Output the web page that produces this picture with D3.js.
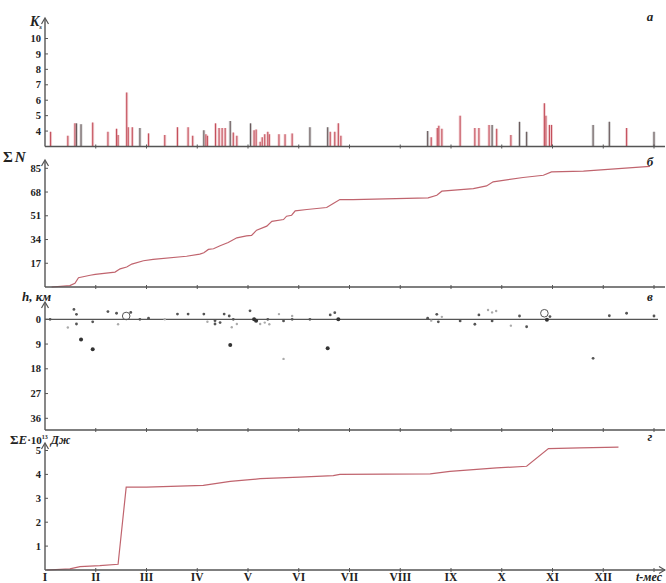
<!DOCTYPE html>
<html>
<head>
<meta charset="utf-8">
<script src="https://cdn.jsdelivr.net/npm/d3@7"></script>
<style>
  body { margin: 0; background: #fff; }
  svg text { font-family: "Liberation Serif", "DejaVu Serif", serif; font-weight: bold; fill: #222; }
</style>
</head>
<body>
<div id="chart"></div>
<script>
// --- Data (time in months from 1 Jan, 0..12) ---
const monthLabels = ['I', 'II', 'III', 'IV', 'V', 'VI', 'VII', 'VIII', 'IX', 'X', 'XI', 'XII'];

// panel a: magnitude class Ks of each event, 'r' red / 'k' dark
const ksTime = [0.11, 0.45, 0.59, 0.62, 0.71, 0.94, 1.24, 1.41, 1.44, 1.61, 1.64, 1.72, 1.87, 2.04, 2.36, 2.61, 2.82, 2.91,
    3.13, 3.17, 3.20, 3.36, 3.43, 3.49, 3.55, 3.65, 3.71, 3.78, 4.05, 4.12, 4.16, 4.24, 4.28, 4.33, 4.39, 4.42, 4.61, 4.73, 4.87,
    5.22, 5.57, 5.62, 5.71, 5.78, 5.83, 7.54, 7.61, 7.73, 7.76, 7.82, 8.18, 8.47, 8.55, 8.75, 8.81, 8.90, 9.18, 9.35, 9.49,
    9.84, 9.87, 9.94, 9.98, 10.80, 11.12, 11.46, 12.0];
const ksValue = [3.95, 3.7, 4.5, 4.5, 4.45, 4.55, 3.95, 4.15, 3.75, 6.5, 4.25, 4.25, 4.2, 3.85, 3.75, 4.25, 4.25, 3.7,
    4.05, 3.8, 3.7, 4.5, 4.2, 4.2, 4.2, 4.65, 3.9, 3.7, 4.5, 4.05, 4.1, 3.3, 3.6, 3.8, 3.95, 3.8, 3.8, 3.8, 3.85,
    4.25, 4.25, 3.95, 3.95, 4.5, 3.7, 4.0, 3.6, 4.2, 4.35, 4.15, 5.0, 4.2, 4.2, 4.4, 4.4, 4.15, 3.75, 4.6, 3.95,
    5.8, 5.0, 4.4, 4.4, 4.4, 4.6, 4.2, 3.95];
const ksKind = ['r', 'r', 'r', 'k', 'k', 'r', 'r', 'r', 'r', 'r', 'r', 'r', 'k', 'r', 'r', 'r', 'r', 'r',
    'k', 'r', 'r', 'r', 'r', 'r', 'r', 'k', 'r', 'r', 'k', 'r', 'r', 'r', 'r', 'r', 'r', 'r', 'r', 'r', 'r',
    'k', 'k', 'r', 'r', 'r', 'r', 'k', 'r', 'r', 'r', 'r', 'r', 'r', 'r', 'r', 'k', 'r', 'r', 'k', 'k',
    'r', 'r', 'r', 'r', 'k', 'k', 'r', 'k'];

// panel б: cumulative number of events
const nTime = [0.13, 0.49, 0.59, 0.66, 0.89, 0.99, 1.38, 1.48, 1.61, 1.71, 1.94, 2.13, 2.79, 3.05, 3.13, 3.22, 3.32, 3.45,
    3.61, 3.78, 3.97, 4.07, 4.17, 4.37, 4.47, 4.70, 4.76, 4.86, 4.93, 5.16, 5.55, 5.68, 5.81, 6.07, 7.55, 7.72, 7.82,
    8.44, 8.70, 8.83, 9.42, 9.82, 9.98, 10.61, 11.92];
const nValue = [0, 1, 2.6, 6.6, 8.4, 9, 10.7, 13, 14.3, 16.4, 18.8, 19.8, 22, 23.6, 24.5, 26.9, 27.4, 29.5,
    31.9, 35.2, 36.6, 37, 40.7, 43.6, 47, 48.3, 50.7, 51.4, 54.5, 55.5, 56.9, 59.8, 62.6, 62.6, 63.8, 65.7, 68.6,
    70.5, 72.4, 75.3, 78.4, 80, 82.4, 83, 86.4];

// panel в: focal depth h, km ('s' point, 'd' large, 'f' faint, 'o' open circle)
const hTime = [0.10, 0.45, 0.57, 0.62, 0.62, 0.71, 0.94, 0.94, 1.24, 1.41, 1.44, 1.60, 1.69, 1.87, 2.04, 2.36, 2.61, 2.82,
    3.13, 3.20, 3.35, 3.35, 3.45, 3.53, 3.63, 3.65, 3.68, 3.71, 3.78, 4.04, 4.12, 4.16, 4.24, 4.33, 4.39, 4.42, 4.61,
    4.70, 4.70, 4.87, 4.87, 5.22, 5.57, 5.62, 5.71, 5.78, 7.54, 7.61, 7.72, 7.75, 7.82, 8.18, 8.47, 8.55, 8.73, 8.81,
    8.89, 8.81, 9.18, 9.35, 9.49, 9.84, 9.89, 9.95, 10.80, 11.12, 11.46, 12.0];
const hValue = [0, 3, -3.6, -1.8, 1.7, 7.3, 0.9, 10.9, -2.8, -2.2, 1.8, -1.2, -2.5, 0, -0.4, 0, -1.9, -1.9,
    -1.9, 0.9, 0.5, 1.7, 1.2, -1.9, -1.2, 9.3, 2.9, 0, 1.7, -3.1, 0, 0.5, 1.7, 1.2, 0, 1.8, -1.9,
    0.6, 14.4, -1.2, 0, 0, 10.5, -1.6, -2.4, 0, -0.4, 0.5, -1.8, 0.9, -0.9, 0.6, 1.8, -1.6, -3.4, -2.5,
    -3, 0.6, 2.3, -1.2, 2.7, -2.2, 0.2, -1, 14.2, -1.3, -2.2, -1.2];
const hKind = ['s', 'f', 's', 's', 's', 'd', 's', 'd', 's', 's', 'f', 'o', 's', 's', 's', 'f', 's', 's',
    's', 'f', 's', 's', 's', 's', 's', 'd', 'f', 's', 'f', 's', 'd', 'd', 'f', 'f', 's', 'f', 'f',
    's', 'f', 'f', 's', 's', 'd', 's', 's', 'd', 's', 'f', 's', 's', 'f', 's', 's', 's', 'f', 'f',
    'f', 's', 'f', 's', 's', 'o', 'd', 's', 's', 's', 's', 's'];

// panel г: cumulative energy
const eTime = [0.03, 0.49, 0.69, 1.08, 1.44, 1.60, 2.00, 3.12, 3.65, 4.04, 4.24, 5.02, 5.68, 5.81, 7.59, 7.98, 8.90,
    9.49, 9.92, 10.54, 11.30];
const eValue = [0, 0.05, 0.14, 0.18, 0.24, 3.47, 3.47, 3.54, 3.71, 3.78, 3.82, 3.89, 3.95, 4.0, 4.02, 4.13, 4.27,
    4.34, 5.08, 5.11, 5.14];

const ksTicks = [4, 5, 6, 7, 8, 9, 10];
const nTicks = [17, 34, 51, 68, 85];
const hTicks = [0, 9, 18, 27, 36];
const eTicks = [1, 2, 3, 4, 5];

// --- Layout ---
const W = 666, H = 583;
const axisColor = '#555';
const lineColor = '#c0646e';

const svg = d3.select('#chart').append('svg').attr('width', W).attr('height', H);

const x = d3.scaleLinear().domain([0, 12]).range([45, 654]);

const yK = d3.scaleLinear().domain([3, 10]).range([146.5, 38.5]);
const yN = d3.scaleLinear().domain([0, 85]).range([287, 168.3]);
const yH = d3.scaleLinear().domain([0, 36]).range([319.3, 418.3]);
const yE = d3.scaleLinear().domain([0, 5]).range([570, 450.5]);

// helper: y axis with ticks on the left, arrow on top
function yAxis(scale, ticks, yBottom, yTop) {
    const g = svg.append('g');
    g.append('line')
        .attr('x1', 45).attr('x2', 45)
        .attr('y1', yBottom).attr('y2', yTop)
        .attr('stroke', axisColor).attr('stroke-width', 1.4);
    g.append('path')
        .attr('d', `M41.5,${yTop + 5} L45,${yTop - 1} L48.5,${yTop + 5}`)
        .attr('fill', 'none').attr('stroke', axisColor).attr('stroke-width', 1.2);
    const t = g.selectAll('g.tick').data(ticks).enter().append('g').attr('class', 'tick');
    t.append('line')
        .attr('x1', 45).attr('x2', 48)
        .attr('y1', d => scale(d)).attr('y2', d => scale(d))
        .attr('stroke', axisColor);
    t.append('text')
        .attr('x', 41).attr('y', d => scale(d))
        .attr('dy', '0.35em')
        .attr('text-anchor', 'end')
        .attr('font-size', 10.5)
        .text(d => d);
}

// helper: horizontal time axis with month ticks
function xAxis(y, x2) {
    const g = svg.append('g');
    g.append('line')
        .attr('x1', 45).attr('x2', x2)
        .attr('y1', y).attr('y2', y)
        .attr('stroke', axisColor).attr('stroke-width', 1.6);
    g.selectAll('line.tick').data(d3.range(1, 13)).enter().append('line')
        .attr('class', 'tick')
        .attr('x1', d => x(d)).attr('x2', d => x(d))
        .attr('y1', y - 2).attr('y2', y + 2)
        .attr('stroke', axisColor);
}

function panelLabel(txt, y) {
    svg.append('text')
        .attr('x', 650).attr('y', y)
        .attr('text-anchor', 'middle')
        .attr('font-size', 13).attr('font-style', 'italic')
        .text(txt);
}

// --- Panel a: Ks bars (thin spikes with a pale halo) ---
const ksData = ksTime.map((t, i) => ({ t, v: ksValue[i], k: ksKind[i] }));
const gKs = svg.append('g');
gKs.selectAll('line.halo').data(ksData).enter().append('line')
    .attr('class', 'halo')
    .attr('x1', d => x(d.t)).attr('x2', d => x(d.t))
    .attr('y1', yK(3)).attr('y2', d => yK(d.v))
    .attr('stroke', d => d.k === 'r' ? '#f3d3d6' : '#d6d6d6')
    .attr('stroke-width', 3);
gKs.selectAll('line.spike').data(ksData).enter().append('line')
    .attr('class', 'spike')
    .attr('x1', d => x(d.t)).attr('x2', d => x(d.t))
    .attr('y1', yK(3)).attr('y2', d => yK(d.v))
    .attr('stroke', d => d.k === 'r' ? '#c4505c' : '#6a5a5c')
    .attr('stroke-width', 1.1);
xAxis(146.5, 665);
yAxis(yK, ksTicks, 146.5, 19);
svg.append('text').attr('x', 30).attr('y', 26).attr('font-size', 14).attr('font-style', 'italic')
    .text('K').append('tspan').attr('font-size', 7).attr('dy', 3).text('s');
panelLabel('a', 21);

// --- Panel б: cumulative count ---
const nData = nTime.map((t, i) => ({ t, v: nValue[i] }));
svg.append('path').datum(nData)
    .attr('fill', 'none').attr('stroke', lineColor).attr('stroke-width', 1.2)
    .attr('d', d3.line().x(d => x(d.t)).y(d => yN(d.v)));
xAxis(287, 665);
yAxis(yN, nTicks, 287, 161);
svg.append('text').attr('x', 3).attr('y', 162).attr('font-size', 15)
    .text('Σ').append('tspan').attr('font-style', 'italic').attr('dx', 2).text('N');
panelLabel('б', 166);

// --- Panel в: depth ---
svg.append('line')
    .attr('x1', 45).attr('x2', 658)
    .attr('y1', yH(0)).attr('y2', yH(0))
    .attr('stroke', axisColor).attr('stroke-width', 1.2);
const hData = hTime.map((t, i) => ({ t, v: hValue[i], k: hKind[i] }));
svg.append('g').selectAll('circle').data(hData).enter().append('circle')
    .attr('cx', d => x(d.t))
    .attr('cy', d => yH(d.v))
    .attr('r', d => d.k === 'o' ? 3.8 : d.k === 'd' ? 2 : d.k === 'f' ? 1.2 : 1.4)
    .attr('fill', d => d.k === 'o' ? 'none' : d.k === 'f' ? '#aaa' : d.k === 'd' ? '#333' : '#555')
    .attr('stroke', d => d.k === 'o' ? '#555' : 'none')
    .attr('stroke-width', 1);
xAxis(430, 665);
yAxis(yH, hTicks, 430, 303);
svg.append('text').attr('x', 22).attr('y', 301).attr('font-size', 13).attr('font-style', 'italic')
    .text('h, км');
panelLabel('в', 301);

// --- Panel г: cumulative energy ---
const eData = eTime.map((t, i) => ({ t, v: eValue[i] }));
svg.append('path').datum(eData)
    .attr('fill', 'none').attr('stroke', lineColor).attr('stroke-width', 1.2)
    .attr('d', d3.line().x(d => x(d.t)).y(d => yE(d.v)));
xAxis(570, 665);
yAxis(yE, eTicks, 570, 444);
const eLab = svg.append('text').attr('x', 10).attr('y', 444).attr('font-size', 13);
eLab.append('tspan').text('Σ');
eLab.append('tspan').attr('font-style', 'italic').text('E');
eLab.append('tspan').attr('font-size', 11).text('·10');
eLab.append('tspan').attr('font-size', 6).attr('dy', -5).text('13');
eLab.append('tspan').attr('font-style', 'italic').attr('font-size', 12).attr('dy', 5).text(' Дж');
panelLabel('г', 441);

// month labels and time axis arrow
svg.append('g').selectAll('text').data(monthLabels).enter().append('text')
    .attr('x', (d, i) => x(i)).attr('y', 581)
    .attr('text-anchor', 'middle')
    .attr('font-size', 11.5)
    .text(d => d);
svg.append('text').attr('x', 636).attr('y', 581).attr('font-size', 12).attr('font-style', 'italic')
    .text('t-мес');
svg.append('path')
    .attr('d', 'M659,566.5 L665,570 L659,573.5')
    .attr('fill', 'none').attr('stroke', axisColor).attr('stroke-width', 1.2);
</script>
</body>
</html>
